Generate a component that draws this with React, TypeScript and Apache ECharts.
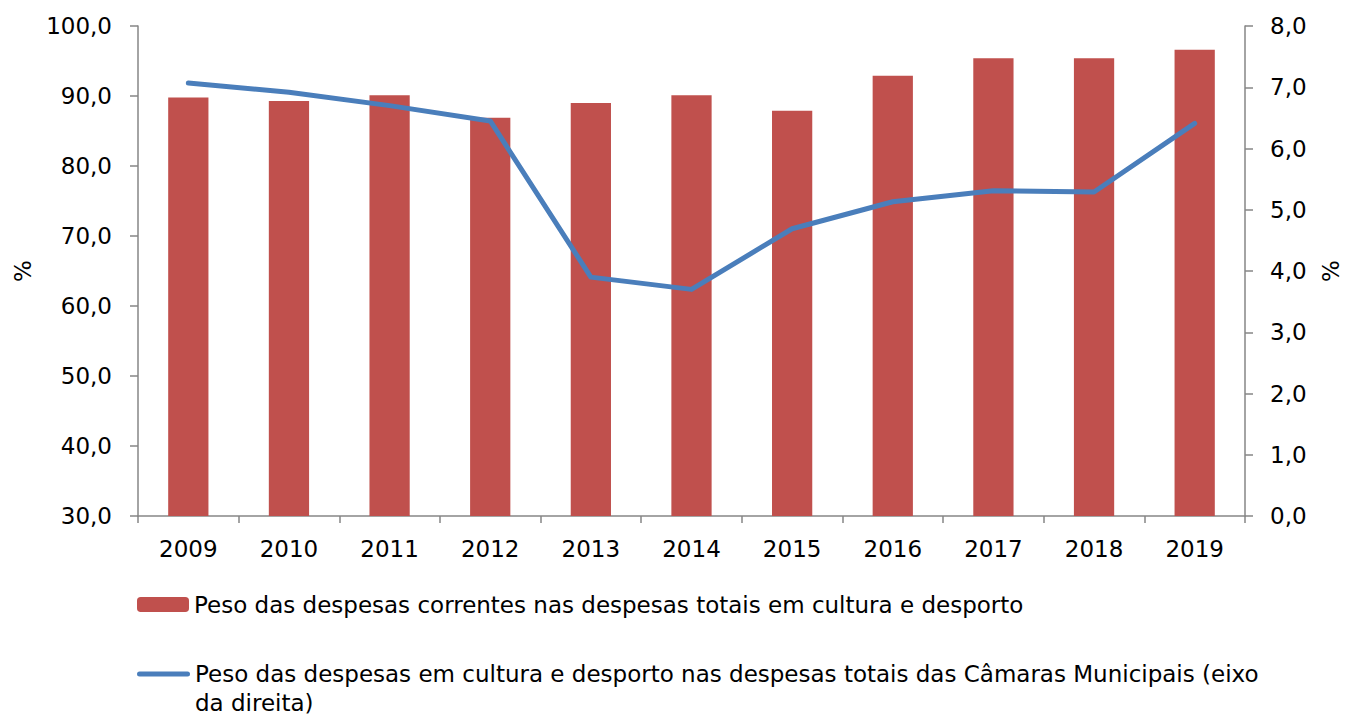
import React, { useEffect, useRef } from "react";
import * as echarts from "echarts";

const years = ["2009", "2010", "2011", "2012", "2013", "2014", "2015", "2016", "2017", "2018", "2019"];
const correntes = [89.8, 89.3, 90.1, 86.9, 89.0, 90.1, 87.9, 92.9, 95.4, 95.4, 96.6];
const culturaMunicipais = [7.07, 6.92, 6.70, 6.45, 3.90, 3.70, 4.69, 5.13, 5.31, 5.29, 6.41];

const barName = "Peso das despesas correntes nas despesas totais em cultura e desporto";
const lineName = "Peso das despesas em cultura e desporto nas despesas totais das Câmaras Municipais (eixo da direita)";

const FONT = "DejaVu Sans";
const axisColor = "#868686";

export default function App() {
  const ref = useRef<HTMLDivElement>(null);
  useEffect(() => {
    if (!ref.current) return;
    const chart = echarts.init(ref.current, undefined, { renderer: "svg" });
    const fmt = (v: number) => v.toFixed(1).replace(".", ",");
    chart.setOption({
      animation: false,
      textStyle: { fontFamily: FONT },
      grid: { left: 138, right: 101, top: 26, bottom: 204, outerBoundsMode: "none", containLabel: false },
      legend: [
        {
          data: [barName],
          left: 137,
          top: 590.5,
          padding: 0,
          itemWidth: 52,
          itemHeight: 15,
          textStyle: { fontFamily: FONT, fontSize: 23, color: "#000", lineHeight: 28 },
        },
        {
          data: [
            {
              name: lineName,
              icon: "path://M2.5,0 H50.5 A2.5,2.5 0 0 1 50.5,5 H2.5 A2.5,2.5 0 0 1 2.5,0 Z",
            },
          ],
          left: 137,
          top: 630.5,
          padding: 0,
          itemWidth: 53,
          itemHeight: 5,
          formatter: (n: string) => "\n" + n,
          textStyle: {
            fontFamily: FONT,
            fontSize: 23,
            color: "#000",
            width: 1085,
            overflow: "break",
            lineHeight: 29,
          },
        },
      ],
      xAxis: {
        type: "category",
        data: years,
        axisLine: { lineStyle: { color: axisColor, width: 1.5 } },
        axisTick: { show: true, length: 7, alignWithLabel: false, lineStyle: { color: axisColor, width: 1.5 } },
        axisLabel: { color: "#000", fontSize: 23, fontFamily: FONT, margin: 21 },
      },
      yAxis: [
        {
          type: "value",
          min: 30,
          max: 100,
          interval: 10,
          name: "%",
          nameLocation: "middle",
          nameRotate: 90,
          nameGap: 104,
          nameTextStyle: { color: "#000", fontSize: 23, fontFamily: FONT },
          axisLine: { show: true, lineStyle: { color: axisColor, width: 1.5 } },
          axisTick: { show: true, length: 8, lineStyle: { color: axisColor, width: 1.5 } },
          axisLabel: { color: "#000", fontSize: 23, fontFamily: FONT, margin: 26, formatter: fmt },
          splitLine: { show: false },
        },
        {
          type: "value",
          min: 0,
          max: 8,
          interval: 1,
          name: "%",
          nameLocation: "middle",
          nameRotate: 90,
          nameGap: 74,
          nameTextStyle: { color: "#000", fontSize: 23, fontFamily: FONT },
          axisLine: { show: true, lineStyle: { color: axisColor, width: 1.5 } },
          axisTick: { show: true, length: 8, lineStyle: { color: axisColor, width: 1.5 } },
          axisLabel: { color: "#000", fontSize: 23, fontFamily: FONT, margin: 25, formatter: fmt },
          splitLine: { show: false },
        },
      ],
      series: [
        {
          name: barName,
          type: "bar",
          data: correntes,
          barWidth: "40%",
          itemStyle: { color: "#c0504d" },
          yAxisIndex: 0,
        },
        {
          name: lineName,
          type: "line",
          data: culturaMunicipais,
          yAxisIndex: 1,
          symbol: "none",
          lineStyle: { color: "#4a7ebb", width: 5, cap: "round", join: "round" },
          itemStyle: { color: "#4a7ebb" },
        },
      ],
    });
    return () => chart.dispose();
  }, []);
  return <div ref={ref} style={{ width: 1346, height: 720, position: "absolute", left: 0, top: 0 }} />;
}
